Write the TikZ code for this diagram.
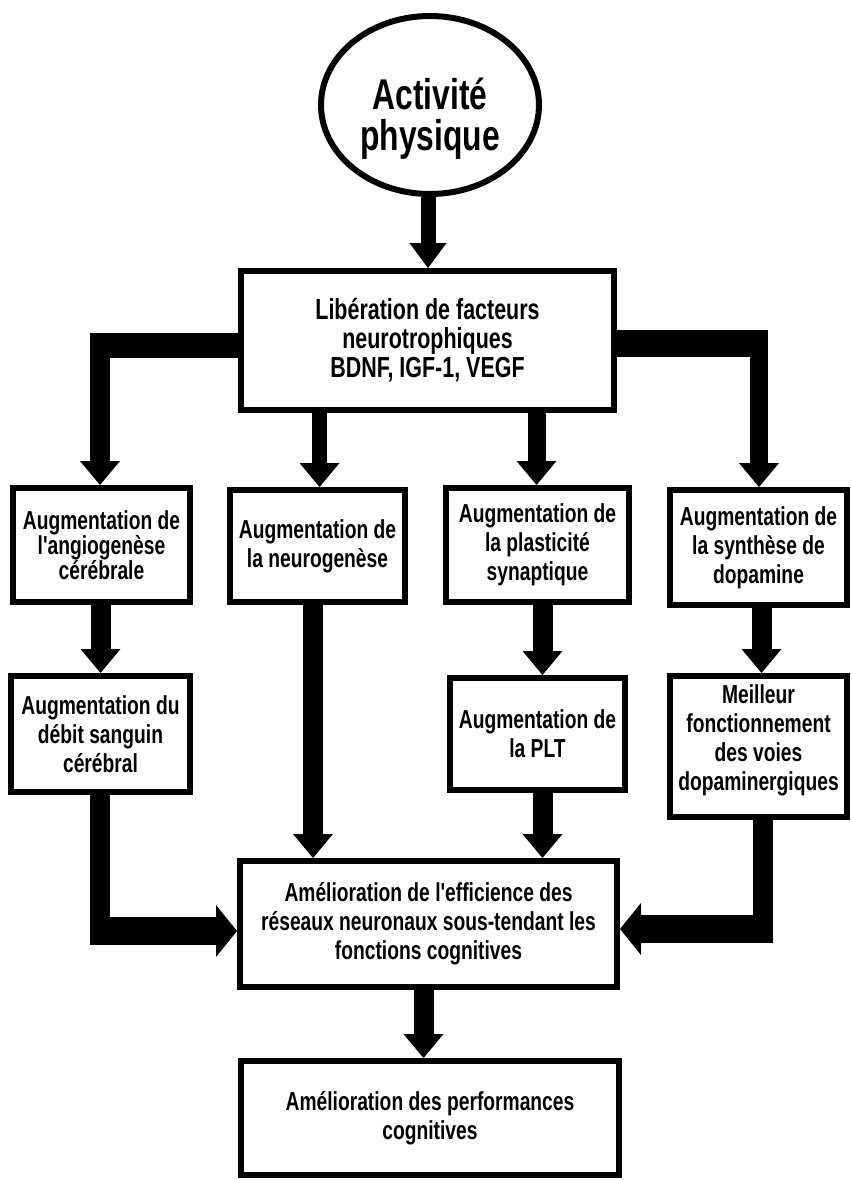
\documentclass[tikz,border=0pt]{standalone}
\usepackage{fontspec}
\newfontfamily\cf{Liberation Sans}[FakeStretch=0.74]
\usetikzlibrary{arrows.meta,shapes.geometric}
\begin{document}
\begin{tikzpicture}[x=1pt,y=-1pt,
  box/.style={draw, line width=6pt, inner sep=0pt, align=center,
    font=\cf\bfseries\fontsize{26}{29}\selectfont},
  va/.style={line width=20pt, -{Triangle[width=40pt,length=24pt,line width=0pt]}},
  ha/.style={line width=28pt, -{Triangle[width=52pt,length=21pt,line width=0pt]}},
]
\useasboundingbox (0,0) rectangle (851,1180);

% nodes
\node[ellipse, draw, line width=6pt, minimum width=218pt, minimum height=178pt, inner sep=0pt,
  label={[align=center, yshift=-14pt, font=\cf\bfseries\fontsize{43}{41}\selectfont]center:Activité\\physique}]
  (ell) at (430,105) {};
\node[box, minimum width=373pt, minimum height=139pt, font=\cf\bfseries\fontsize{29}{29}\selectfont]
  (lib) at (427.5,340.5) {Libération de facteurs\\neurotrophiques\\BDNF, IGF-1, VEGF};
\node[box, minimum width=177pt, minimum height=114pt, font=\cf\bfseries\fontsize{26}{25}\selectfont]
  (b1) at (101.5,545) {Augmentation de\\l'angiogenèse\\cérébrale};
\node[box, minimum width=175pt, minimum height=112pt] (b2) at (317.5,546) {Augmentation de\\la neurogenèse};
\node[box, minimum width=183pt, minimum height=114pt] (b3) at (537.5,545) {Augmentation de\\la plasticité\\synaptique};
\node[box, minimum width=177pt, minimum height=115pt] (b4) at (758.5,547.5) {Augmentation de\\la synthèse de\\dopamine};
\node[box, minimum width=179pt, minimum height=116pt] (b5) at (100.5,734) {Augmentation du\\débit sanguin\\cérébral};
\node[box, minimum width=175pt, minimum height=112pt] (b6) at (537.5,734) {Augmentation de\\la PLT};
\node[box, minimum width=177pt, minimum height=141pt,
  label={[align=center, yshift=6pt, font=\cf\bfseries\fontsize{26}{29}\selectfont]center:Meilleur\\fonctionnement\\des voies\\dopaminergiques}]
  (b8) at (758.5,746.5) {};
\node[box, minimum width=377pt, minimum height=126pt] (b7) at (428.5,924)
  {Amélioration de l'efficience des\\réseaux neuronaux sous-tendant les\\fonctions cognitives};
\node[box, minimum width=378pt, minimum height=114pt] (b9) at (430,1118)
  {Amélioration des performances\\cognitives};

% connectors
\draw[va, line width=15pt, -{Triangle[width=37pt,length=25pt,line width=0pt]}]
  ([xshift=-2pt]ell.south) -- ([xshift=-2pt]ell.south |- lib.north);

\coordinate (c1) at (100,345.5);
\draw[line width=25pt] (lib.west |- c1) -- ([xshift=-10pt]c1);
\draw[va] ([yshift=12.5pt]c1) -- (c1 |- b1.north);

\coordinate (c2) at (759,343.5);
\draw[line width=27pt] (lib.east |- c2) -- ([xshift=9pt]c2);
\draw[va, line width=18pt] ([yshift=13.5pt]c2) -- (c2 |- b4.north);

\draw[va, line width=15pt] ([xshift=2pt]b2.north |- lib.south) -- ([xshift=2pt]b2.north);
\draw[va, line width=18pt] ([xshift=-1pt]b3.north |- lib.south) -- ([xshift=-1pt]b3.north);

\draw[va] ([xshift=-1pt]b1.south) -- ([xshift=-1pt]b1.south |- b5.north);
\draw[va] ([xshift=5pt]b3.south) -- ([xshift=5pt]b3.south |- b6.north);
\draw[va] ([xshift=3pt]b4.south) -- ([xshift=3pt]b4.south |- b8.north);
\draw[va] ([xshift=-4.5pt]b2.south) -- ([xshift=-4.5pt]b2.south |- b7.north);
\draw[va] ([xshift=5pt]b6.south) -- ([xshift=5pt]b6.south |- b7.north);
\draw[va] ([xshift=-5pt]b7.south) -- ([xshift=-5pt]b7.south |- b9.north);

\coordinate (c3) at (100,931);
\draw[line width=20pt] (b5.south -| c3) -- ([yshift=-14pt]c3);
\draw[ha] ([xshift=-10pt]c3) -- (c3 -| b7.west);

\coordinate (c4) at (763,929);
\draw[line width=20pt] (b8.south -| c4) -- ([yshift=-14pt]c4);
\draw[ha] ([xshift=10pt]c4) -- (c4 -| b7.east);
\end{tikzpicture}
\end{document}
